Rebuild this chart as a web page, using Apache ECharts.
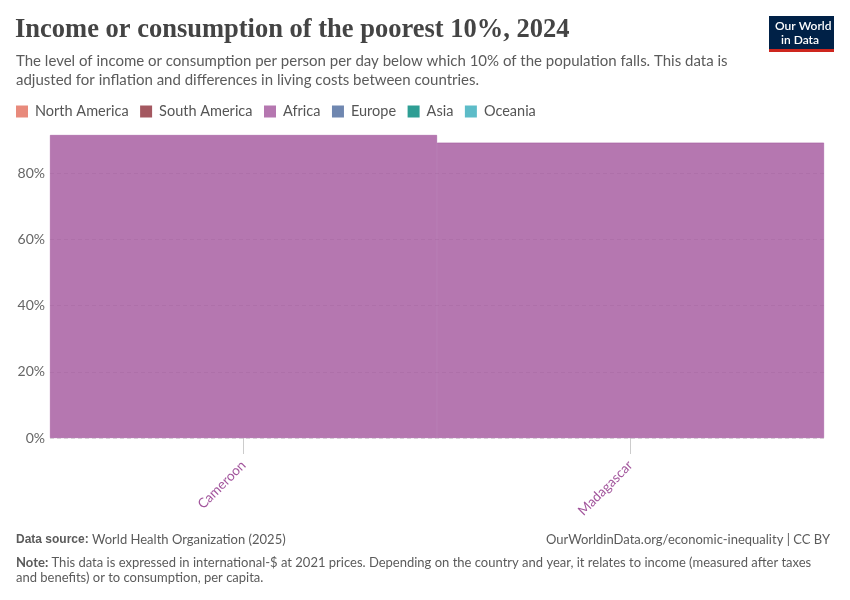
<!DOCTYPE html>
<html>
<head>
<meta charset="utf-8">
<script src="https://cdn.jsdelivr.net/npm/echarts@6/dist/echarts.min.js"></script>
<style>
  html, body { margin: 0; padding: 0; background: #fff; }
  #chart { width: 850px; height: 600px; }
</style>
</head>
<body>
<div id="chart"></div>
<script>
// Data
const countries = ['Cameroon', 'Madagascar']
const africaValues = [91.5, 89.2]
const regions = ['North America', 'South America', 'Africa', 'Europe', 'Asia', 'Oceania']
const regionColors = ['#e88a7c', '#a45860', '#b577b0', '#6f87b0', '#2e9e94', '#5dbcc8']
const yTicks = [0, 20, 40, 60, 80]

const chart = echarts.init(document.getElementById('chart'))

const series = regions.map((name, i) => ({
  name,
  type: 'bar',
  stack: 'all',
  barWidth: '100%',
  data: name === 'Africa' ? africaValues : [],
  itemStyle: name === 'Africa'
    ? { color: 'rgba(162,85,156,0.8)', borderColor: 'rgba(162,85,156,0.9)', borderWidth: 0.6 }
    : { color: regionColors[i] },
}))

chart.setOption({
  animation: false,
  textStyle: { fontFamily: 'Lato, "Noto Sans", sans-serif' },
  title: [
    {
      text: 'Income or consumption of the poorest 10%, 2024',
      left: 15,
      top: 17,
      padding: 0,
      textStyle: { fontFamily: '"Liberation Serif", serif', fontSize: 26.5, fontWeight: 'bold', color: '#444' },
    },
    {
      text: 'The level of income or consumption per person per day below which 10% of the population falls. This data is\nadjusted for inflation and differences in living costs between countries.',
      left: 16,
      top: 52,
      padding: 0,
      textStyle: { fontSize: 15, fontWeight: 'normal', color: '#5b5b5b', lineHeight: 19 },
    },
  ],
  legend: {
    left: 16,
    top: 104,
    padding: 0,
    icon: 'rect',
    itemWidth: 12,
    itemHeight: 12,
    itemGap: 11.5,
    selectedMode: false,
    data: regions.map((name, i) => ({ name, itemStyle: { color: regionColors[i], borderWidth: 0 } })),
    textStyle: { fontSize: 14.5, color: '#555', padding: [0, 0, 0, 2] },
  },
  grid: { left: 50, right: 26, top: 135, bottom: 162, containLabel: false },
  xAxis: {
    type: 'category',
    data: countries,
    offset: 5,
    axisLine: { show: false },
    axisTick: { show: true, alignWithLabel: true, length: 16, lineStyle: { color: '#ccc' } },
    axisLabel: { rotate: 45, margin: 20, color: '#a2559c', fontSize: 13.5 },
  },
  yAxis: {
    type: 'value',
    min: 0,
    max: 'dataMax',
    interval: 20,
    axisLine: { show: false },
    axisTick: { show: false },
    axisLabel: {
      showMaxLabel: false,
      color: '#666',
      fontSize: 14,
      margin: 5,
      formatter: (v) => (yTicks.includes(v) ? v + '%' : ''),
    },
    splitLine: { showMaxLine: false, lineStyle: { color: '#ddd', type: [4, 3] } },
  },
  graphic: [
    // logo
    { type: 'rect', left: 769, top: 16, shape: { width: 65, height: 33 }, style: { fill: '#002147' } },
    { type: 'rect', left: 769, top: 49, shape: { width: 65, height: 3 }, style: { fill: '#ce261e' } },
    {
      type: 'text', left: 775, top: 19,
      style: { text: 'Our World\n  in Data', fill: '#fff', font: '600 12px Lato, sans-serif', lineHeight: 14, align: 'left' },
    },
    // footer
    {
      type: 'text', left: 16, top: 533,
      style: { text: '{b|Data source:} World Health Organization (2025)', fill: '#5b5b5b', font: '13px Lato, sans-serif',
        rich: { b: { fontWeight: 'bold', fill: '#5b5b5b', font: 'bold 13px Lato, sans-serif' } } },
    },
    {
      type: 'text', right: 20, top: 533,
      style: { text: 'OurWorldinData.org/economic-inequality | CC BY', fill: '#5b5b5b', font: '13px Lato, sans-serif' },
    },
    {
      type: 'text', left: 16, top: 555,
      style: {
        text: '{b|Note:} This data is expressed in international-$ at 2021 prices. Depending on the country and year, it relates to income (measured after taxes\nand benefits) or to consumption, per capita.',
        fill: '#5b5b5b', font: '13px Lato, sans-serif', lineHeight: 15,
        rich: { b: { font: 'bold 13px Lato, sans-serif', fill: '#5b5b5b' } },
      },
    },
  ],
  series,
})
</script>
</body>
</html>
